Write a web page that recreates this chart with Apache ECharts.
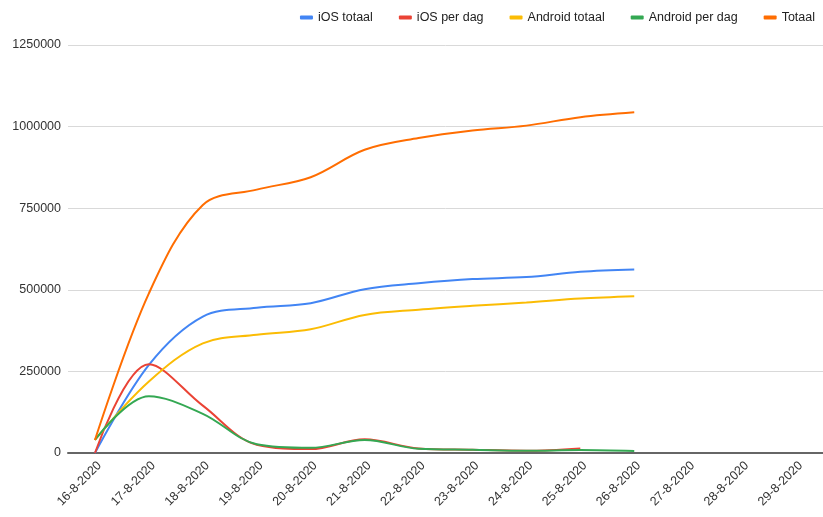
<!DOCTYPE html>
<html>
<head>
<meta charset="utf-8">
<script src="https://cdn.jsdelivr.net/npm/echarts@6/dist/echarts.min.js"></script>
<style>html,body{margin:0;padding:0;background:#fff}#c{width:823px;height:517px}</style>
</head>
<body>
<div id="c"></div>
<script>
const categories = ['16-8-2020','17-8-2020','18-8-2020','19-8-2020','20-8-2020','21-8-2020','22-8-2020','23-8-2020','24-8-2020','25-8-2020','26-8-2020','27-8-2020','28-8-2020','29-8-2020'];
const iosTotaal = [0, 270000, 418000, 445000, 459000, 502000, 520000, 533000, 539000, 555000, 562000, null, null, null];
const iosPerDag = [0, 272000, 145000, 25000, 12000, 42000, 14000, 10000, 7000, 14000, null, null, null, null];
const androidTotaal = [40000, 219000, 336000, 362000, 379000, 423000, 439000, 451000, 461000, 473000, 480000, null, null, null];
const androidPerDag = [40000, 174000, 120000, 27000, 16000, 40000, 13000, 10000, 7000, 9000, 6000, null, null, null];
const totaal = [40000, 489000, 760000, 807000, 845000, 929000, 965000, 988000, 1003000, 1029000, 1044000, null, null, null];
const yTicks = [0, 250000, 500000, 750000, 1000000, 1250000];

const seriesDefs = [
  ['iOS totaal', iosTotaal, '#4285F4'],
  ['iOS per dag', iosPerDag, '#EA4335'],
  ['Android totaal', androidTotaal, '#FBBC04'],
  ['Android per dag', androidPerDag, '#34A853'],
  ['Totaal', totaal, '#FF6D01']
];

const chart = echarts.init(document.getElementById('c'));
chart.setOption({
  animation: false,
  textStyle: {fontFamily: 'Liberation Sans, Arial, sans-serif'},
  legend: {
    top: 6, right: 3,
    itemWidth: 13, itemHeight: 4, itemGap: 26,
    icon: 'roundRect',
    textStyle: {fontSize: 12.5, color: '#222'},
    data: seriesDefs.map(s => s[0])
  },
  grid: {left: 68, top: 45, bottom: 64, width: 760, containLabel: false},
  xAxis: {
    type: 'category', data: categories, boundaryGap: true,
    axisLine: {lineStyle: {color: '#666', width: 2}},
    axisTick: {show: false},
    axisLabel: {rotate: 45, fontSize: 12.5, color: '#333', interval: 0, margin: 6, verticalAlign: 'top'}
  },
  yAxis: {
    type: 'value', min: yTicks[0], max: yTicks[yTicks.length - 1], interval: 250000,
    axisLine: {show: false}, axisTick: {show: false},
    axisLabel: {fontSize: 12.5, color: '#333', margin: 7, formatter: v => String(v)},
    splitLine: {lineStyle: {color: '#d9d9d9', width: 1}}
  },
  series: seriesDefs.map(s => ({
    name: s[0], type: 'line', data: s[1], smooth: 0.35,
    showSymbol: false, symbol: 'none',
    itemStyle: {color: s[2]},
    lineStyle: {color: s[2], width: 2},
    connectNulls: false
  }))
});
</script>
</body>
</html>
